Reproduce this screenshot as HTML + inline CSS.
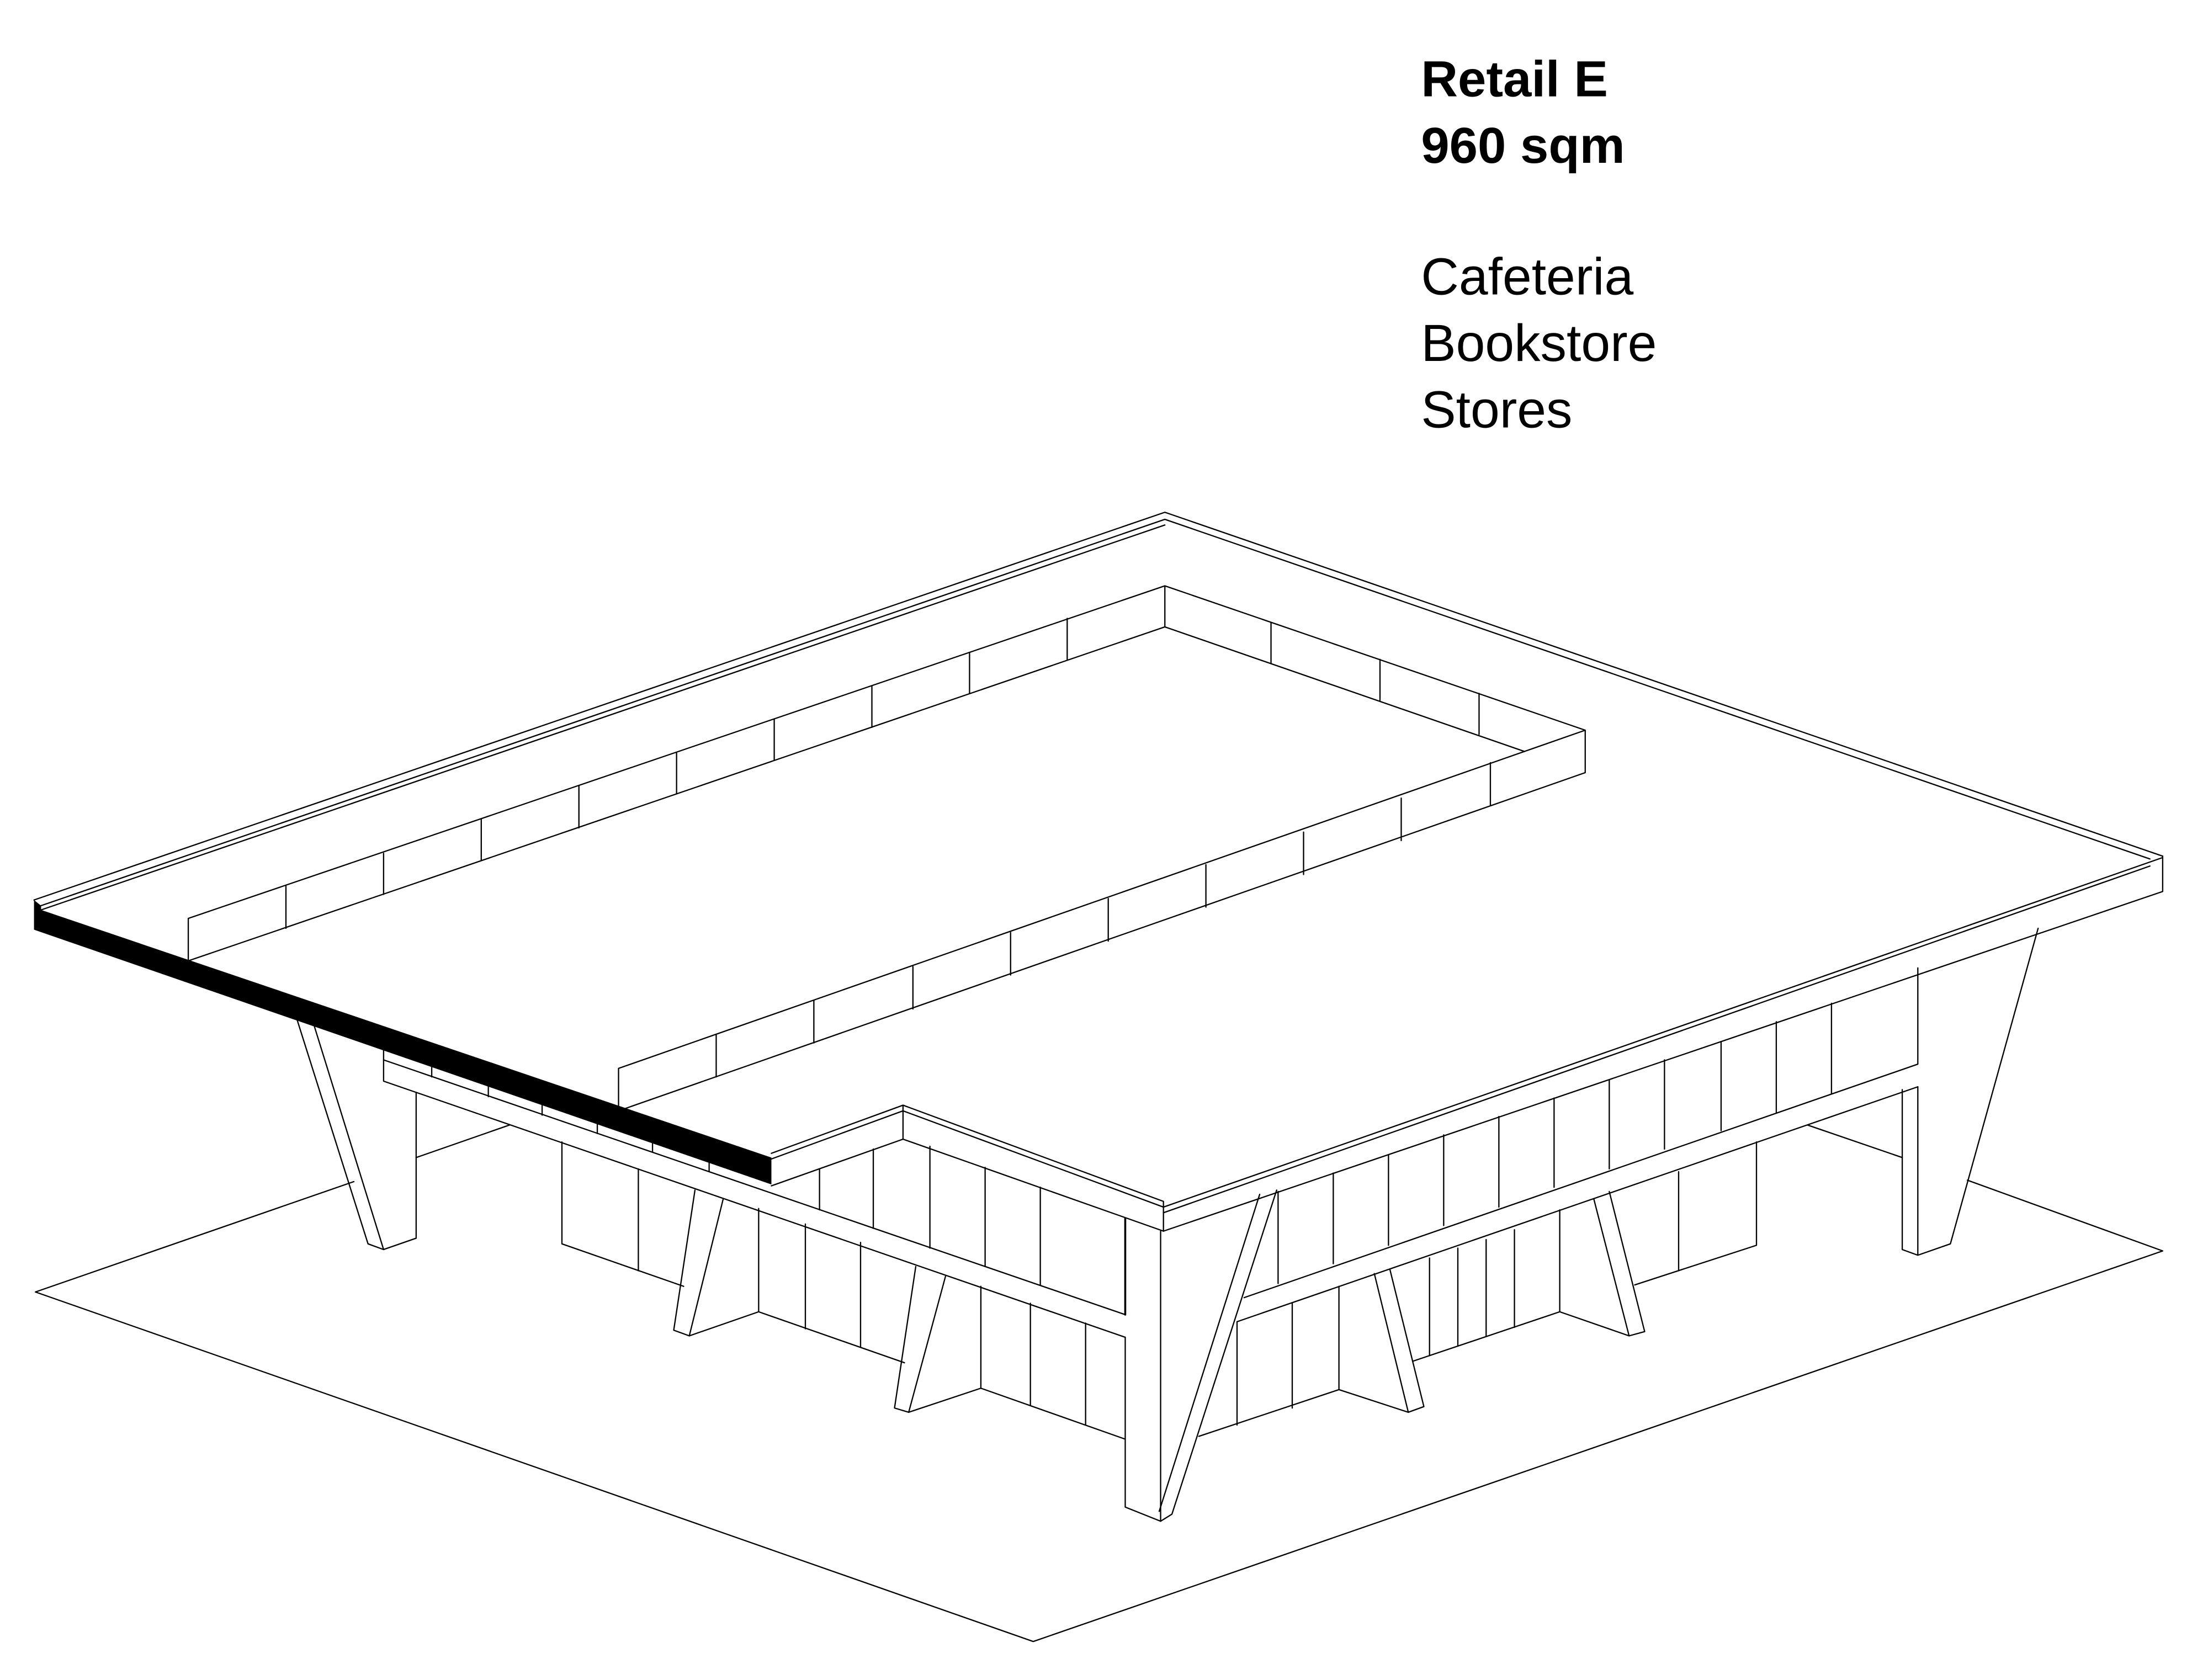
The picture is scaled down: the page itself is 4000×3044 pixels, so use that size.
<!DOCTYPE html>
<html><head><meta charset="utf-8">
<style>
html,body{margin:0;padding:0;background:#fff;}
svg{display:block;}
</style></head>
<body>
<svg width="4000" height="3044" viewBox="0 0 1560 1187.2" xmlns="http://www.w3.org/2000/svg">
<rect width="1560" height="1187.2" fill="#fff"/>
<g font-family="'Liberation Sans', Arial, sans-serif" fill="#000">
<text x="1004" y="68" font-size="36" font-weight="bold">Retail E</text>
<text x="1004" y="115" font-size="36" font-weight="bold">960 sqm</text>
<text x="1004" y="208" font-size="37">Cafeteria</text>
<text x="1004" y="255" font-size="37">Bookstore</text>
<text x="1004" y="302" font-size="37">Stores</text>
</g>
<g fill="none" stroke="#000" stroke-width="0.9" stroke-linejoin="round" stroke-linecap="round">
<!-- ground -->
<path d="M250,835 L25,913 L730,1160 L1528,884 L1390,834"/>
<path d="M294,818 L360,795"/>
<path d="M1277,795 L1344,818"/>
<!-- roof outer -->
<path d="M24,636 L823,362 L1528,605"/>
<path d="M29,640 L823,367 L1519,607"/>
<path d="M29,643 L823,371"/>
<path d="M1528,605 L1528,630 L822,870"/>
<path d="M822,853 L1528,606"/>
<path d="M822,857 L1519,612"/>
<!-- notch fascia -->
<path d="M545,815 L638,781 L822,849 L822,870"/>
<path d="M545,819 L638,785 L822,853"/>
<path d="M545,838 L638,805 L822,870"/>
<path d="M638,781 L638,805"/>
<!-- courtyard walls -->
<path d="M133,679 L133,649 L823,414 L1120,516 L1120,546 L437,785 L437,755 L1120,516"/>
<path d="M133,679 L823,443 L823,414"/>
<path d="M823,443 L1077,531"/>
<!-- back wall dividers -->
<path d="M202,626 L202,656 M271,603 L271,632 M340,579 L340,608 M409,555 L409,585 M478,532 L478,561 M547,508 L547,537 M616,485 L616,514 M685,461 L685,490 M754,437 L754,466"/>
<path d="M898,440 L898,469 M975,466 L975,495 M1045,490 L1045,519"/>
<path d="M506,731 L506,761 M575,707 L575,737 M645,683 L645,713 M714,659 L714,689 M783,635 L783,665 M852,611 L852,641 M921,588 L921,618 M990,564 L990,594 M1053,539 L1053,569"/>
<!-- lower slab left -->
<path d="M271,742 L271,764 L795,945"/>
<path d="M271,749 L795,929"/>
<path d="M305,753 L305,761 M345,767 L345,775 M383,780 L383,788 M422,793 L422,801 M461,806 L461,814 M501,820 L501,828"/>
<!-- upper facade under notch -->
<path d="M579,826 L579,855 M617,812 L617,868 M657,810 L657,882 M696,825 L696,895 M735,839 L735,908"/>
<path d="M795,861 L795,929" stroke-width="1.4"/>
<!-- center column -->
<path d="M795,945 L795,1065 L820,1075 L828,1070 L902,841"/>
<path d="M820,870 L820,1075"/>
<path d="M890,844 L819,1068"/>
<!-- right slab -->
<path d="M879,917 L1355,752 L1355,684"/>
<path d="M874,934 L1355,768"/>
<path d="M903,842 L903,907 M942,829 L942,893 M981,816 L981,880 M1020,802 L1020,866 M1059,789 L1059,853 M1098,776 L1098,839 M1137,763 L1137,826 M1176,749 L1176,812 M1216,736 L1216,799 M1255,722 L1255,786 M1294,709 L1294,773"/>
<!-- right column -->
<path d="M1440,656 L1378,879 L1355,887 L1344,883 L1344,770"/>
<path d="M1355,768 L1355,887"/>
<!-- left column -->
<path d="M210,721 L260,879 L271,883 L294,875 L294,772"/>
<path d="M222,725 L271,883"/>
<!-- lower facades left -->
<path d="M397,807 L397,879 L483,909"/>
<path d="M451,826 L451,898"/>
<path d="M491,841 L476,940 L487,944 L511,847"/>
<path d="M487,944 L536,927 L536,854"/>
<path d="M536,927 L639,963"/>
<path d="M569,865 L569,939 M608,878 L608,952"/>
<path d="M647,895 L632,995 L642,998 L668,902"/>
<path d="M642,998 L693,981 L693,909"/>
<path d="M693,981 L795,1017"/>
<path d="M728,921 L728,993 M767,935 L767,1007"/>
<!-- lower facades right -->
<path d="M874,934 L874,1007"/>
<path d="M847,1015 L946,982"/>
<path d="M913,921 L913,995 M946,909 L946,982"/>
<path d="M971,900 L995,998 L1006,994 L982,897"/>
<path d="M946,982 L995,998"/>
<path d="M998,962 L1102,927 L1102,855"/>
<path d="M1010,889 L1010,958 M1030,882 L1030,951 M1050,876 L1050,944 M1070,869 L1070,938"/>
<path d="M1126,847 L1151,944 L1162,941 L1137,842"/>
<path d="M1102,927 L1151,944"/>
<path d="M1155,908 L1241,880 L1241,807"/>
<path d="M1186,828 L1186,898"/>
</g>
<!-- black bar -->
<polygon points="24,636 29,640 29,643 545,818 545,837 24,657" fill="#000"/>
</svg>
</body></html>
